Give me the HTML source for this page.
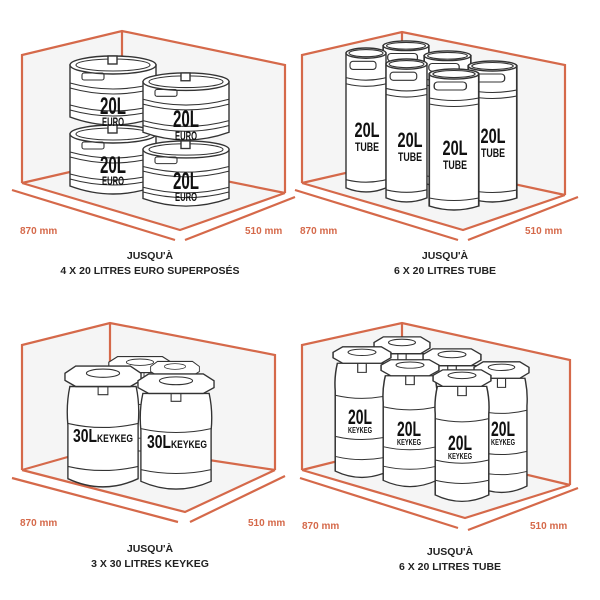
<!DOCTYPE html>
<html><head><meta charset="utf-8"><style>
html,body{margin:0;padding:0;background:#fff}
svg{display:block}
.o{fill:none;stroke:#d5694a;stroke-width:2.2}
.w{fill:#f5f5f5}
.k{fill:#fff;stroke:#333;stroke-width:1.4}
.kl{fill:none;stroke:#333;stroke-width:1.1}
.big{font-family:"Liberation Sans",sans-serif;font-weight:bold;fill:#111;text-anchor:middle}
.dim{font-family:"Liberation Sans",sans-serif;font-weight:bold;fill:#d5694a;font-size:10px}
.cap{font-family:"Liberation Sans",sans-serif;font-weight:bold;fill:#222;font-size:10.5px;text-anchor:middle}
</style></head><body>
<svg width="600" height="600" viewBox="0 0 600 600" xmlns="http://www.w3.org/2000/svg">
<defs>
<symbol id="euro" viewBox="0 0 90 72" preserveAspectRatio="none">
<path class="k" d="M2 10 L2 62 Q45 78 88 62 L88 10 Z"/>
<ellipse class="k" cx="45" cy="10" rx="43" ry="9"/>
<ellipse class="kl" cx="45" cy="10" rx="37" ry="6"/>
<rect class="k" x="40" y="1" width="9" height="8"/>
<rect class="kl" x="14" y="18" width="22" height="7" rx="2"/>
<path class="kl" d="M2 28 Q45 40 88 28 M2 33 Q45 45 88 33 M2 50 Q45 62 88 50 M2 55 Q45 67 88 55"/>
</symbol>
<symbol id="tube" viewBox="0 0 42 145" preserveAspectRatio="none">
<path class="k" d="M1 6 L1 138 Q21 146 41 138 L41 6 Z"/>
<ellipse class="k" cx="21" cy="6" rx="20" ry="5"/>
<ellipse class="kl" cx="21" cy="6" rx="17" ry="3.5"/>
<rect class="kl" x="5" y="14" width="26" height="8" rx="3"/>
<path class="kl" d="M1 30 Q21 35 41 30 M1 36 Q21 41 41 36 M1 130 Q21 135 41 130"/>
</symbol>
<symbol id="kk30" viewBox="0 0 80 125" preserveAspectRatio="none">
<path class="k" d="M6 22 Q2 40 4 60 L4 112 Q40 128 76 112 L76 60 Q78 40 74 22 Z"/>
<path class="k" d="M12 2 L68 2 L79 9 L79 16 L68 22 L12 22 L1 16 L1 9 Z"/>
<ellipse class="kl" cx="40" cy="9" rx="17" ry="4"/>
<path class="kl" d="M35 22 L35 30 L45 30 L45 22 M4 58 Q40 66 76 58 M4 100 Q40 108 76 100"/>
</symbol>
<symbol id="kk20" viewBox="0 0 56 150" preserveAspectRatio="none">
<path class="k" d="M5 20 Q2 35 3 50 L3 138 Q28 152 53 138 L53 50 Q54 35 51 20 Z"/>
<path class="k" d="M10 2 L46 2 L55 8 L55 14 L46 20 L10 20 L1 14 L1 8 Z"/>
<ellipse class="kl" cx="28" cy="8" rx="13" ry="3.5"/>
<path class="kl" d="M24 20 L24 30 L32 30 L32 20 M3 55 Q28 62 53 55 M3 100 Q28 107 53 100 M3 122 Q28 129 53 122"/>
</symbol>
</defs>

<!-- Panel 1 -->
<path class="w" d="M22 55 L122 31 L285 65 L285 193 L180 230 L22 183 Z"/>
<path class="o" d="M22 183 L22 55 L122 31 L285 65 L285 193 M122 31 L122 160 M22 183 L122 160 L285 193 M22 183 L180 230 L285 193"/>
<path class="o" d="M12 190 L175 240 M185 240 L295 197"/>
<use href="#euro" x="68" y="124" width="90" height="72"/>
<use href="#euro" x="68" y="55" width="90" height="72"/>
<use href="#euro" x="141" y="140" width="90" height="68"/>
<use href="#euro" x="141" y="72" width="90" height="70"/>
<text class="big" x="113" y="114" font-size="24" textLength="26" lengthAdjust="spacingAndGlyphs">20L</text><text class="big" x="113" y="126" font-size="12" textLength="22" lengthAdjust="spacingAndGlyphs">EURO</text>
<text class="big" x="113" y="173" font-size="24" textLength="26" lengthAdjust="spacingAndGlyphs">20L</text><text class="big" x="113" y="185" font-size="12" textLength="22" lengthAdjust="spacingAndGlyphs">EURO</text>
<text class="big" x="186" y="127" font-size="24" textLength="26" lengthAdjust="spacingAndGlyphs">20L</text><text class="big" x="186" y="140" font-size="12" textLength="22" lengthAdjust="spacingAndGlyphs">EURO</text>
<text class="big" x="186" y="189" font-size="24" textLength="26" lengthAdjust="spacingAndGlyphs">20L</text><text class="big" x="186" y="201" font-size="12" textLength="22" lengthAdjust="spacingAndGlyphs">EURO</text>
<text class="dim" x="20" y="234">870 mm</text><text class="dim" x="245" y="234">510 mm</text>
<text class="cap" x="150" y="259">JUSQU'À</text><text class="cap" x="150" y="274">4 X 20 LITRES EURO SUPERPOSÉS</text>

<!-- Panel 2 -->
<path class="w" d="M302 55 L402 32 L565 65 L565 195 L463 230 L302 183 Z"/>
<path class="o" d="M302 183 L302 55 L402 32 L565 65 L565 195 M402 32 L402 160 M302 183 L402 160 L565 195 M302 183 L463 230 L565 195"/>
<path class="o" d="M295 190 L458 240 M468 240 L578 197"/>
<use href="#tube" x="382" y="40" width="48" height="140"/>
<use href="#tube" x="423" y="50" width="49" height="140"/>
<use href="#tube" x="345" y="47" width="42" height="148"/>
<use href="#tube" x="467" y="60" width="51" height="145"/>
<use href="#tube" x="385" y="58" width="43" height="147"/>
<use href="#tube" x="428" y="68" width="52" height="145"/>
<text class="big" x="367" y="137" font-size="21" textLength="25" lengthAdjust="spacingAndGlyphs">20L</text><text class="big" x="367" y="151" font-size="12" textLength="24" lengthAdjust="spacingAndGlyphs">TUBE</text>
<text class="big" x="410" y="147" font-size="21" textLength="25" lengthAdjust="spacingAndGlyphs">20L</text><text class="big" x="410" y="161" font-size="12" textLength="24" lengthAdjust="spacingAndGlyphs">TUBE</text>
<text class="big" x="455" y="155" font-size="21" textLength="25" lengthAdjust="spacingAndGlyphs">20L</text><text class="big" x="455" y="169" font-size="12" textLength="24" lengthAdjust="spacingAndGlyphs">TUBE</text>
<text class="big" x="493" y="143" font-size="21" textLength="25" lengthAdjust="spacingAndGlyphs">20L</text><text class="big" x="493" y="157" font-size="12" textLength="24" lengthAdjust="spacingAndGlyphs">TUBE</text>
<text class="dim" x="300" y="234">870 mm</text><text class="dim" x="525" y="234">510 mm</text>
<text class="cap" x="445" y="259">JUSQU'À</text><text class="cap" x="445" y="274">6 X 20 LITRES TUBE</text>

<!-- Panel 3 -->
<path class="w" d="M22 345 L110 323 L275 355 L275 470 L185 512 L22 470 Z"/>
<path class="o" d="M22 470 L22 345 L110 323 L275 355 L275 470 M110 323 L110 445 M22 470 L110 445 L275 470 M22 470 L185 512 L275 470"/>
<path class="o" d="M12 478 L178 522 M190 522 L285 476"/>
<use href="#kk30" x="108" y="355" width="64" height="100"/>
<use href="#kk30" x="150" y="360" width="50" height="90"/>
<use href="#kk30" x="64" y="364" width="78" height="128"/>
<use href="#kk30" x="137" y="372" width="78" height="122"/>
<text class="big" x="103" y="442" font-size="18" textLength="60" lengthAdjust="spacingAndGlyphs">30L<tspan font-size="11">KEYKEG</tspan></text>
<text class="big" x="177" y="448" font-size="18" textLength="60" lengthAdjust="spacingAndGlyphs">30L<tspan font-size="11">KEYKEG</tspan></text>
<text class="dim" x="20" y="526">870 mm</text><text class="dim" x="248" y="526">510 mm</text>
<text class="cap" x="150" y="552">JUSQU'À</text><text class="cap" x="150" y="567">3 X 30 LITRES KEYKEG</text>

<!-- Panel 4 -->
<path class="w" d="M302 345 L402 323 L570 360 L570 485 L465 518 L302 470 Z"/>
<path class="o" d="M302 470 L302 345 L402 323 L570 360 L570 485 M402 323 L402 445 M302 470 L402 445 L570 485 M302 470 L465 518 L570 485"/>
<path class="o" d="M300 478 L458 528 M468 530 L578 488"/>
<use href="#kk20" x="373" y="335" width="58" height="140"/>
<use href="#kk20" x="422" y="347" width="60" height="140"/>
<use href="#kk20" x="332" y="345" width="60" height="137"/>
<use href="#kk20" x="473" y="360" width="57" height="137"/>
<use href="#kk20" x="380" y="358" width="60" height="133"/>
<use href="#kk20" x="432" y="368" width="60" height="138"/>
<text class="big" x="360" y="424" font-size="21" textLength="24" lengthAdjust="spacingAndGlyphs">20L</text><text class="big" x="360" y="433" font-size="8" textLength="24" lengthAdjust="spacingAndGlyphs">KEYKEG</text>
<text class="big" x="409" y="436" font-size="21" textLength="24" lengthAdjust="spacingAndGlyphs">20L</text><text class="big" x="409" y="445" font-size="8" textLength="24" lengthAdjust="spacingAndGlyphs">KEYKEG</text>
<text class="big" x="460" y="450" font-size="21" textLength="24" lengthAdjust="spacingAndGlyphs">20L</text><text class="big" x="460" y="459" font-size="8" textLength="24" lengthAdjust="spacingAndGlyphs">KEYKEG</text>
<text class="big" x="503" y="436" font-size="21" textLength="24" lengthAdjust="spacingAndGlyphs">20L</text><text class="big" x="503" y="445" font-size="8" textLength="24" lengthAdjust="spacingAndGlyphs">KEYKEG</text>
<text class="dim" x="302" y="529">870 mm</text><text class="dim" x="530" y="529">510 mm</text>
<text class="cap" x="450" y="555">JUSQU'À</text><text class="cap" x="450" y="570">6 X 20 LITRES TUBE</text>
</svg>
</body></html>
